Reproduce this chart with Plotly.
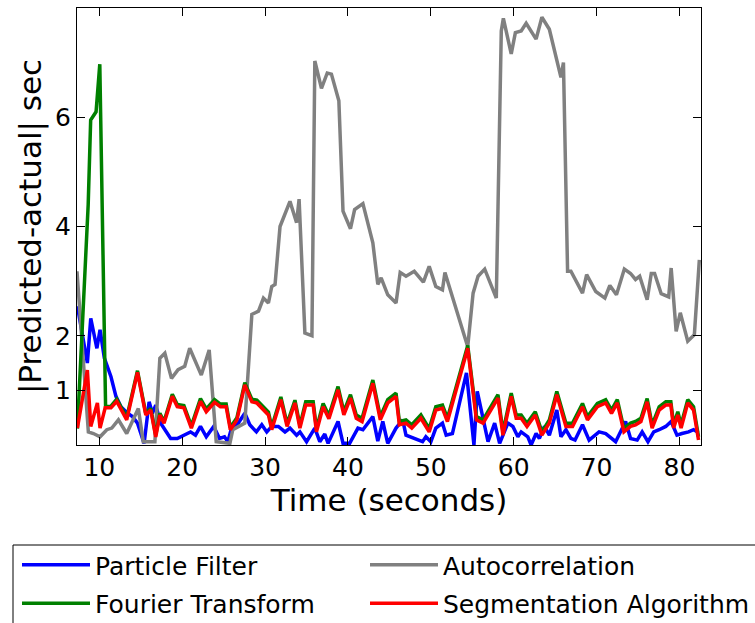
import plotly.graph_objects as go

# ---------------- data ----------------
pf_t = [7.35, 8.55, 8.96, 9.7, 10.08, 10.6, 11.4, 12.0, 12.6, 13.4, 14.0, 14.6, 15.4, 16.0, 16.4,
        16.8, 17.4, 18.6, 19.4, 21.0, 21.6, 22.2, 22.9, 23.8, 24.5, 25.1, 25.5, 25.95, 26.75, 27.55,
        28.15, 28.95, 29.6, 30.2, 30.8, 31.6, 32.4, 33.0, 33.8, 34.2, 35.0, 36.0, 36.6, 37.2, 37.6,
        38.8, 39.4, 40.2, 41.2, 41.8, 43.0, 43.6, 44.2, 44.8, 45.8, 46.6, 47.0, 48.0, 49.0, 49.4,
        50.0, 50.6, 51.4, 51.85, 52.6, 54.3, 55.2, 55.6, 56.3, 56.9, 57.7, 58.3, 59.3, 59.9, 60.5,
        60.9, 61.7, 62.1, 62.7, 63.1, 63.7, 64.3, 65.2, 65.7, 66.3, 66.9, 67.4, 68.3, 69.1, 70.3,
        71.1, 72.3, 73.5, 74.1, 74.9, 75.5, 76.2, 76.9, 77.55, 78.35, 79.0, 79.7, 80.3, 81.1, 81.7,
        82.3]
pf_v = [2.54, 1.50, 2.32, 1.77, 2.11, 1.59, 1.25, 0.89, 0.70, 0.58, 0.52, 0.40, 0.03, 0.79, 0.58,
        0.73, 0.40, 0.12, 0.12, 0.24, 0.18, 0.34, 0.15, 0.34, 0.12, 0.15, 0.06, 0.31, 0.40, 0.58,
        0.37, 0.24, 0.37, 0.24, 0.34, 0.34, 0.24, 0.31, 0.18, 0.24, 0.06, 0.31, 0.06, 0.20, 0.03,
        0.43, 0.03, 0.03, 0.31, 0.28, 0.52, 0.07, 0.43, 0.03, 0.31, 0.46, 0.18, 0.12, 0.06, 0.15,
        0.06, 0.31, 0.40, 0.18, 0.21, 1.32, 0.00, 0.98, 0.46, 0.06, 0.40, 0.03, 0.40, 0.34, 0.15,
        0.24, 0.15, 0.00, 0.21, 0.12, 0.34, 0.18, 0.64, 0.15, 0.28, 0.12, 0.09, 0.37, 0.09, 0.24,
        0.21, 0.06, 0.43, 0.12, 0.09, 0.24, 0.06, 0.24, 0.28, 0.34, 0.43, 0.18, 0.21, 0.24, 0.28,
        0.23]

ac_t = [7.3, 8.67, 9.28, 10.08, 10.9, 11.5, 12.3, 13.3, 14.7, 15.3, 16.7, 17.3, 17.9, 18.7, 19.5,
        20.3, 20.9, 22.3, 23.25, 24.1, 25.75, 26.1, 27.55, 28.4, 29.2, 29.8, 30.4, 30.8, 31.2, 31.8,
        33.0, 33.8, 34.1, 34.8, 35.65, 36.0, 36.8, 37.5, 38.0, 38.9, 39.4, 40.3, 40.8, 41.8, 43.0,
        43.6, 44.0, 44.8, 45.8, 46.3, 47.0, 48.0, 49.1, 49.8, 50.6, 51.4, 51.7, 54.45, 55.1, 55.7,
        56.5, 57.9, 58.5, 58.75, 59.7, 60.2, 60.9, 61.5, 62.7, 63.4, 64.3, 65.7, 66.0, 66.5, 66.9,
        68.3, 68.8, 69.9, 71.0, 71.6, 72.4, 73.35, 74.1, 74.7, 75.2, 76.1, 76.6, 77.0, 77.8, 78.7,
        79.0, 79.6, 80.1, 81.0, 81.8, 82.4]
ac_v = [3.18, 0.24, 0.21, 0.15, 0.28, 0.31, 0.46, 0.21, 0.67, 0.06, 0.06, 1.59, 1.68, 1.22, 1.38,
        1.44, 1.77, 1.28, 1.74, 0.06, 0.03, 0.28, 0.40, 2.39, 2.45, 2.69, 2.60, 2.90, 2.94, 4.00,
        4.46, 4.07, 4.50, 2.05, 2.00, 7.03, 6.53, 6.81, 6.79, 6.30, 4.28, 3.96, 4.31, 4.42, 3.70,
        2.94, 3.06, 2.75, 2.60, 3.16, 3.09, 3.18, 2.98, 3.27, 2.90, 2.84, 3.16, 1.80, 2.78, 3.09,
        3.22, 2.69, 7.58, 7.81, 7.16, 7.55, 7.58, 7.72, 7.43, 7.83, 7.61, 6.73, 7.00, 3.18, 3.18,
        2.78, 3.12, 2.81, 2.69, 2.92, 2.75, 3.22, 3.14, 3.03, 3.09, 2.66, 3.14, 3.14, 2.77, 2.71,
        3.24, 2.08, 2.42, 1.90, 2.02, 3.39]

seg_t = [7.35, 8.55, 8.96, 9.76, 10.08, 10.7, 11.4, 12.1, 13.3, 14.6, 15.6, 16.2, 16.8, 17.3, 17.8,
         18.8, 19.4, 20.2, 21.1, 22.2, 22.9, 23.9, 24.6, 25.3, 25.8, 26.6, 27.55, 28.4, 29.0, 29.96,
         30.4, 30.8, 31.9, 32.65, 33.6, 34.2, 34.9, 35.8, 36.2, 37.0, 37.7, 38.8, 39.5, 40.3, 41.0,
         41.7, 43.0, 43.9, 44.8, 45.8, 46.2, 47.0, 47.7, 48.8, 49.8, 50.6, 51.4, 52.0, 54.45, 55.5,
         56.3, 58.1, 58.7, 59.7, 60.3, 60.9, 61.6, 62.6, 63.4, 64.3, 65.2, 66.3, 67.1, 68.3, 68.9,
         70.1, 71.1, 71.8, 72.5, 73.3, 74.1, 74.7, 75.35, 76.1, 76.7, 77.55, 78.35, 78.96, 79.3, 79.8,
         80.2, 81.0, 81.7, 82.3]
seg_v = [0.31, 1.37, 0.34, 0.77, 0.31, 0.68, 0.68, 0.80, 0.46, 1.33, 0.55, 0.64, 0.15, 0.55, 0.40,
         0.89, 0.70, 0.68, 0.31, 0.80, 0.61, 0.78, 0.70, 0.70, 0.28, 0.46, 1.10, 0.79, 0.77, 0.61,
         0.55, 0.28, 0.83, 0.34, 0.77, 0.31, 0.73, 0.73, 0.24, 0.70, 0.48, 1.01, 0.55, 0.86, 0.49,
         0.43, 1.13, 0.46, 0.77, 0.89, 0.37, 0.40, 0.31, 0.49, 0.24, 0.64, 0.67, 0.43, 1.77, 0.46,
         0.40, 0.86, 0.18, 0.89, 0.49, 0.49, 0.34, 0.55, 0.18, 0.40, 0.92, 0.34, 0.34, 0.70, 0.46,
         0.70, 0.77, 0.58, 0.77, 0.24, 0.34, 0.37, 0.43, 0.79, 0.31, 0.64, 0.73, 0.73, 0.31, 0.55,
         0.31, 0.77, 0.64, 0.09]

ft_t = [7.35, 8.65, 8.95, 9.6, 10.05, 10.75, 11.4, 12.1, 13.3, 14.6, 15.6, 16.2, 16.8, 17.3, 17.8,
        18.8, 19.4, 20.2, 21.1, 22.2, 22.9, 23.9, 24.6, 25.3, 25.8, 26.6, 27.55, 28.4, 29.0, 29.96,
        30.4, 30.8, 31.9, 32.65, 33.6, 34.2, 34.9, 35.8, 36.2, 37.0, 37.7, 38.8, 39.5, 40.3, 41.0,
        41.7, 43.0, 43.9, 44.8, 45.8, 46.2, 47.0, 47.7, 48.8, 49.8, 50.6, 51.4, 52.0, 54.45, 55.5,
        56.3, 58.1, 58.7, 59.7, 60.3, 60.9, 61.6, 62.6, 63.4, 64.3, 65.2, 66.3, 67.1, 68.3, 68.9,
        70.1, 71.1, 71.8, 72.5, 73.3, 74.1, 74.7, 75.35, 76.1, 76.7, 77.55, 78.35, 78.96, 79.3, 79.8,
        80.2, 81.0, 81.7, 82.3]
ft_v = [0.30, 4.40, 5.95, 6.10, 6.97, 0.70, 0.71, 0.84, 0.50, 1.36, 0.58, 0.67, 0.18, 0.58, 0.43,
        0.93, 0.74, 0.72, 0.35, 0.85, 0.66, 0.83, 0.75, 0.75, 0.32, 0.50, 1.14, 0.84, 0.82, 0.66,
        0.60, 0.33, 0.88, 0.39, 0.82, 0.36, 0.79, 0.79, 0.30, 0.76, 0.54, 1.07, 0.61, 0.92, 0.55,
        0.49, 1.19, 0.52, 0.83, 0.95, 0.43, 0.46, 0.37, 0.55, 0.30, 0.70, 0.73, 0.49, 1.82, 0.52,
        0.46, 0.92, 0.24, 0.95, 0.55, 0.55, 0.40, 0.61, 0.24, 0.46, 0.98, 0.40, 0.40, 0.76, 0.52,
        0.76, 0.83, 0.64, 0.83, 0.30, 0.40, 0.43, 0.49, 0.85, 0.37, 0.70, 0.79, 0.79, 0.37, 0.61,
        0.37, 0.83, 0.70, 0.15]

y_ticks = [1, 2, 4, 6]
x_ticks = [10, 20, 30, 40, 50, 60, 70, 80]

FONT = "DejaVu Sans"
W, H = 755, 623
ML, MR, MT, MB = 77, 54, 8, 178
PW, PH = W - ML - MR, H - MT - MB


def px_to_paper_x(px):
    return (px - ML) / PW


def px_to_paper_y(py):
    return (H - MB - py) / PH


fig = go.Figure()
LW = 3.5
fig.add_trace(go.Scatter(x=pf_t, y=pf_v, mode="lines", name="Particle Filter",
                         line=dict(color="#0000ff", width=LW), legend="legend", legendgroup="pf"))
fig.add_trace(go.Scatter(x=ac_t, y=ac_v, mode="lines", name="Autocorrelation",
                         line=dict(color="#808080", width=LW), legend="legend2", legendgroup="ac"))
fig.add_trace(go.Scatter(x=ft_t, y=ft_v, mode="lines", name="Fourier Transform",
                         line=dict(color="#008000", width=LW), legend="legend", legendgroup="ft"))
fig.add_trace(go.Scatter(x=seg_t, y=seg_v, mode="lines", name="Segmentation Algorithm",
                         line=dict(color="#ff0000", width=LW), legend="legend2", legendgroup="seg"))

axis_common = dict(showline=True, linecolor="black", linewidth=1.2, mirror="allticks",
                   ticks="inside", ticklen=8, tickwidth=1, tickcolor="black",
                   showgrid=False, zeroline=False,
                   tickfont=dict(family=FONT, size=25, color="black"))

fig.update_xaxes(range=[7.3, 82.6], tickvals=x_ticks,
                 title=dict(text="Time (seconds)", font=dict(family=FONT, size=31, color="black"),
                            standoff=2),
                 **axis_common)
fig.update_yaxes(range=[0, 8.0], tickvals=y_ticks,
                 title=dict(text="|Predicted-actual| sec", font=dict(family=FONT, size=31, color="black"),
                            standoff=4),
                 **axis_common)

# legend frame
fig.add_shape(type="rect", xref="paper", yref="paper",
              x0=px_to_paper_x(13), x1=px_to_paper_x(770),
              y0=px_to_paper_y(640), y1=px_to_paper_y(545),
              line=dict(color="black", width=1), fillcolor="rgba(0,0,0,0)", layer="above")

legend_common = dict(orientation="v", xanchor="left", yanchor="top",
                     font=dict(family=FONT, size=25, color="black"),
                     itemwidth=68, borderwidth=0, bgcolor="rgba(0,0,0,0)",
                     tracegroupgap=3, traceorder="grouped")

fig.update_layout(
    width=W, height=H,
    margin=dict(l=ML, r=MR, t=MT, b=MB, pad=0, autoexpand=False),
    plot_bgcolor="white", paper_bgcolor="white",
    font=dict(family=FONT, color="black"),
    legend=dict(x=px_to_paper_x(17), y=px_to_paper_y(542), **legend_common),
    legend2=dict(x=px_to_paper_x(365), y=px_to_paper_y(542), **legend_common),
    showlegend=True,
)

fig.write_html("out.html")
